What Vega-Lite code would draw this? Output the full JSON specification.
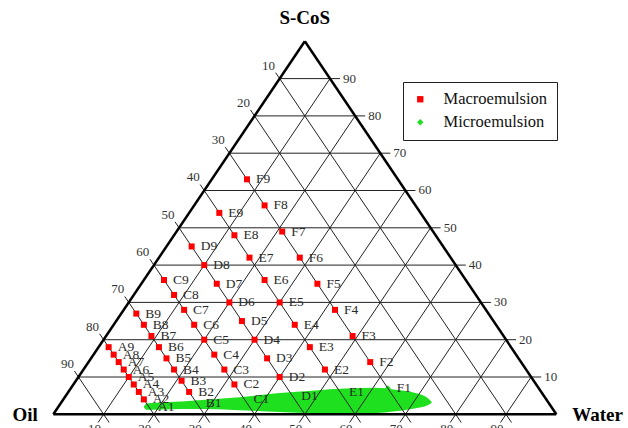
{
  "$schema": "https://vega.github.io/schema/vega-lite/v6.json",
  "width": 628,
  "height": 428,
  "autosize": "none",
  "padding": 0,
  "background": "white",
  "config": {"view": {"stroke": null}},
  "datasets": {
    "blob": [
      {"bx": 18.0, "btop": 2.1, "bbot": 1.9},
      {"bx": 18.6, "btop": 2.9, "bbot": 1.2},
      {"bx": 22, "btop": 3.2, "bbot": 1.3},
      {"bx": 29, "btop": 3.8, "bbot": 1.4},
      {"bx": 37, "btop": 4.6, "bbot": 1.1},
      {"bx": 45, "btop": 5.7, "bbot": 0.6},
      {"bx": 52, "btop": 6.4, "bbot": 0.3},
      {"bx": 58, "btop": 6.9, "bbot": 0.2},
      {"bx": 64, "btop": 7.1, "bbot": 0.3},
      {"bx": 68, "btop": 6.6, "bbot": 0.8},
      {"bx": 72, "btop": 5.7, "bbot": 1.6},
      {"bx": 74.4, "btop": 4.4, "bbot": 2.4},
      {"bx": 75.2, "btop": 3.4, "bbot": 3.1}
    ],
    "grid": [
      {"x1": 5, "y1": 10, "x2": 97, "y2": 10},
      {"x1": 10, "y1": 20, "x2": 92, "y2": 20},
      {"x1": 15, "y1": 30, "x2": 87, "y2": 30},
      {"x1": 20, "y1": 40, "x2": 82, "y2": 40},
      {"x1": 25, "y1": 50, "x2": 77, "y2": 50},
      {"x1": 30, "y1": 60, "x2": 72, "y2": 60},
      {"x1": 35, "y1": 70, "x2": 67, "y2": 70},
      {"x1": 40, "y1": 80, "x2": 62, "y2": 80},
      {"x1": 45, "y1": 90, "x2": 57, "y2": 90},
      {"x1": 8.9, "y1": -2.2, "x2": 55, "y2": 90},
      {"x1": 18.9, "y1": -2.2, "x2": 60, "y2": 80},
      {"x1": 28.9, "y1": -2.2, "x2": 65, "y2": 70},
      {"x1": 38.9, "y1": -2.2, "x2": 70, "y2": 60},
      {"x1": 48.9, "y1": -2.2, "x2": 75, "y2": 50},
      {"x1": 58.9, "y1": -2.2, "x2": 80, "y2": 40},
      {"x1": 68.9, "y1": -2.2, "x2": 85, "y2": 30},
      {"x1": 78.9, "y1": -2.2, "x2": 90, "y2": 20},
      {"x1": 88.9, "y1": -2.2, "x2": 95, "y2": 10},
      {"x1": 4.2, "y1": 11.6, "x2": 11.1, "y2": -2.2},
      {"x1": 9.2, "y1": 21.6, "x2": 21.1, "y2": -2.2},
      {"x1": 14.2, "y1": 31.6, "x2": 31.1, "y2": -2.2},
      {"x1": 19.2, "y1": 41.6, "x2": 41.1, "y2": -2.2},
      {"x1": 24.2, "y1": 51.6, "x2": 51.1, "y2": -2.2},
      {"x1": 29.2, "y1": 61.6, "x2": 61.1, "y2": -2.2},
      {"x1": 34.2, "y1": 71.6, "x2": 71.1, "y2": -2.2},
      {"x1": 39.2, "y1": 81.6, "x2": 81.1, "y2": -2.2},
      {"x1": 44.2, "y1": 91.6, "x2": 91.1, "y2": -2.2}
    ],
    "edges": [
      {"x1": 0, "y1": 0, "x2": 100, "y2": 0},
      {"x1": 0, "y1": 0, "x2": 50, "y2": 100},
      {"x1": 100, "y1": 0, "x2": 50, "y2": 100}
    ],
    "points": [
      {"name": "A1", "oil": 80, "water": 18, "scos": 2, "x": 19, "type": "Microemulsion"},
      {"name": "A2", "oil": 80, "water": 16, "scos": 4, "x": 18, "type": "Macroemulsion"},
      {"name": "A3", "oil": 80, "water": 14, "scos": 6, "x": 17, "type": "Macroemulsion"},
      {"name": "A4", "oil": 80, "water": 12, "scos": 8, "x": 16, "type": "Macroemulsion"},
      {"name": "A5", "oil": 80, "water": 10, "scos": 10, "x": 15, "type": "Macroemulsion"},
      {"name": "A6", "oil": 80, "water": 8, "scos": 12, "x": 14, "type": "Macroemulsion"},
      {"name": "A7", "oil": 80, "water": 6, "scos": 14, "x": 13, "type": "Macroemulsion"},
      {"name": "A8", "oil": 80, "water": 4, "scos": 16, "x": 12, "type": "Macroemulsion"},
      {"name": "A9", "oil": 80, "water": 2, "scos": 18, "x": 11, "type": "Macroemulsion"},
      {"name": "B1", "oil": 70, "water": 27, "scos": 3, "x": 28.5, "type": "Microemulsion"},
      {"name": "B2", "oil": 70, "water": 24, "scos": 6, "x": 27, "type": "Macroemulsion"},
      {"name": "B3", "oil": 70, "water": 21, "scos": 9, "x": 25.5, "type": "Macroemulsion"},
      {"name": "B4", "oil": 70, "water": 18, "scos": 12, "x": 24, "type": "Macroemulsion"},
      {"name": "B5", "oil": 70, "water": 15, "scos": 15, "x": 22.5, "type": "Macroemulsion"},
      {"name": "B6", "oil": 70, "water": 12, "scos": 18, "x": 21, "type": "Macroemulsion"},
      {"name": "B7", "oil": 70, "water": 9, "scos": 21, "x": 19.5, "type": "Macroemulsion"},
      {"name": "B8", "oil": 70, "water": 6, "scos": 24, "x": 18, "type": "Macroemulsion"},
      {"name": "B9", "oil": 70, "water": 3, "scos": 27, "x": 16.5, "type": "Macroemulsion"},
      {"name": "C1", "oil": 60, "water": 36, "scos": 4, "x": 38, "type": "Microemulsion"},
      {"name": "C2", "oil": 60, "water": 32, "scos": 8, "x": 36, "type": "Macroemulsion"},
      {"name": "C3", "oil": 60, "water": 28, "scos": 12, "x": 34, "type": "Macroemulsion"},
      {"name": "C4", "oil": 60, "water": 24, "scos": 16, "x": 32, "type": "Macroemulsion"},
      {"name": "C5", "oil": 60, "water": 20, "scos": 20, "x": 30, "type": "Macroemulsion"},
      {"name": "C6", "oil": 60, "water": 16, "scos": 24, "x": 28, "type": "Macroemulsion"},
      {"name": "C7", "oil": 60, "water": 12, "scos": 28, "x": 26, "type": "Macroemulsion"},
      {"name": "C8", "oil": 60, "water": 8, "scos": 32, "x": 24, "type": "Macroemulsion"},
      {"name": "C9", "oil": 60, "water": 4, "scos": 36, "x": 22, "type": "Macroemulsion"},
      {"name": "D1", "oil": 50, "water": 45, "scos": 5, "x": 47.5, "type": "Microemulsion"},
      {"name": "D2", "oil": 50, "water": 40, "scos": 10, "x": 45, "type": "Macroemulsion"},
      {"name": "D3", "oil": 50, "water": 35, "scos": 15, "x": 42.5, "type": "Macroemulsion"},
      {"name": "D4", "oil": 50, "water": 30, "scos": 20, "x": 40, "type": "Macroemulsion"},
      {"name": "D5", "oil": 50, "water": 25, "scos": 25, "x": 37.5, "type": "Macroemulsion"},
      {"name": "D6", "oil": 50, "water": 20, "scos": 30, "x": 35, "type": "Macroemulsion"},
      {"name": "D7", "oil": 50, "water": 15, "scos": 35, "x": 32.5, "type": "Macroemulsion"},
      {"name": "D8", "oil": 50, "water": 10, "scos": 40, "x": 30, "type": "Macroemulsion"},
      {"name": "D9", "oil": 50, "water": 5, "scos": 45, "x": 27.5, "type": "Macroemulsion"},
      {"name": "E1", "oil": 40, "water": 54, "scos": 6, "x": 57, "type": "Microemulsion"},
      {"name": "E2", "oil": 40, "water": 48, "scos": 12, "x": 54, "type": "Macroemulsion"},
      {"name": "E3", "oil": 40, "water": 42, "scos": 18, "x": 51, "type": "Macroemulsion"},
      {"name": "E4", "oil": 40, "water": 36, "scos": 24, "x": 48, "type": "Macroemulsion"},
      {"name": "E5", "oil": 40, "water": 30, "scos": 30, "x": 45, "type": "Macroemulsion"},
      {"name": "E6", "oil": 40, "water": 24, "scos": 36, "x": 42, "type": "Macroemulsion"},
      {"name": "E7", "oil": 40, "water": 18, "scos": 42, "x": 39, "type": "Macroemulsion"},
      {"name": "E8", "oil": 40, "water": 12, "scos": 48, "x": 36, "type": "Macroemulsion"},
      {"name": "E9", "oil": 40, "water": 6, "scos": 54, "x": 33, "type": "Macroemulsion"},
      {"name": "F1", "oil": 30, "water": 63, "scos": 7, "x": 66.5, "type": "Microemulsion"},
      {"name": "F2", "oil": 30, "water": 56, "scos": 14, "x": 63, "type": "Macroemulsion"},
      {"name": "F3", "oil": 30, "water": 49, "scos": 21, "x": 59.5, "type": "Macroemulsion"},
      {"name": "F4", "oil": 30, "water": 42, "scos": 28, "x": 56, "type": "Macroemulsion"},
      {"name": "F5", "oil": 30, "water": 35, "scos": 35, "x": 52.5, "type": "Macroemulsion"},
      {"name": "F6", "oil": 30, "water": 28, "scos": 42, "x": 49, "type": "Macroemulsion"},
      {"name": "F7", "oil": 30, "water": 21, "scos": 49, "x": 45.5, "type": "Macroemulsion"},
      {"name": "F8", "oil": 30, "water": 14, "scos": 56, "x": 42, "type": "Macroemulsion"},
      {"name": "F9", "oil": 30, "water": 7, "scos": 63, "x": 38.5, "type": "Macroemulsion"}
    ],
    "ticklabels": [
      {"side": "left", "label": "10", "tx": 42.8, "ty": 93.5},
      {"side": "left", "label": "20", "tx": 37.8, "ty": 83.5},
      {"side": "left", "label": "30", "tx": 32.8, "ty": 73.5},
      {"side": "left", "label": "40", "tx": 27.8, "ty": 63.5},
      {"side": "left", "label": "50", "tx": 22.8, "ty": 53.5},
      {"side": "left", "label": "60", "tx": 17.8, "ty": 43.5},
      {"side": "left", "label": "70", "tx": 12.8, "ty": 33.5},
      {"side": "left", "label": "80", "tx": 7.8, "ty": 23.5},
      {"side": "left", "label": "90", "tx": 2.8, "ty": 13.5},
      {"side": "right", "label": "90", "tx": 57.6, "ty": 90},
      {"side": "right", "label": "80", "tx": 62.6, "ty": 80},
      {"side": "right", "label": "70", "tx": 67.6, "ty": 70},
      {"side": "right", "label": "60", "tx": 72.6, "ty": 60},
      {"side": "right", "label": "50", "tx": 77.6, "ty": 50},
      {"side": "right", "label": "40", "tx": 82.6, "ty": 40},
      {"side": "right", "label": "30", "tx": 87.6, "ty": 30},
      {"side": "right", "label": "20", "tx": 92.6, "ty": 20},
      {"side": "right", "label": "10", "tx": 97.6, "ty": 10},
      {"side": "bottom", "label": "10", "tx": 8.2, "ty": -2.4},
      {"side": "bottom", "label": "20", "tx": 18.2, "ty": -2.4},
      {"side": "bottom", "label": "30", "tx": 28.2, "ty": -2.4},
      {"side": "bottom", "label": "40", "tx": 38.2, "ty": -2.4},
      {"side": "bottom", "label": "50", "tx": 48.2, "ty": -2.4},
      {"side": "bottom", "label": "60", "tx": 58.2, "ty": -2.4},
      {"side": "bottom", "label": "70", "tx": 68.2, "ty": -2.4},
      {"side": "bottom", "label": "80", "tx": 78.2, "ty": -2.4},
      {"side": "bottom", "label": "90", "tx": 88.2, "ty": -2.4}
    ],
    "titles": [
      {"name": "S-CoS", "tx": 50, "ty": 106.2},
      {"name": "Oil", "tx": -5.6, "ty": -0.3},
      {"name": "Water", "tx": 108.2, "ty": -0.3}
    ]
  },
  "layer": [
    {
      "data": {"name": "points"},
      "transform": [{"filter": "datum.type === 'Microemulsion'"}],
      "mark": {"type": "point", "filled": true, "opacity": 1, "size": 36},
      "encoding": {
        "x": {"field": "x", "type": "quantitative", "scale": {"domain": [-10.6, 114.25], "nice": false, "zero": false}, "axis": null},
        "y": {"field": "scos", "type": "quantitative", "scale": {"domain": [-3.67, 111.07], "nice": false, "zero": false}, "axis": null},
        "color": {"field": "type", "type": "nominal", "scale": {"domain": ["Macroemulsion", "Microemulsion"], "range": ["#ff0000", "#1fe01f"]},
          "legend": {"title": null, "orient": "none", "legendX": 403, "legendY": 82, "padding": 9, "rowPadding": 6, "strokeColor": "#222222", "fillColor": "white", "labelFont": "Liberation Serif", "labelFontSize": 16.5, "labelColor": "#111111", "labelOffset": 15, "symbolSize": 40, "symbolStrokeWidth": 0}},
        "shape": {"field": "type", "type": "nominal", "scale": {"domain": ["Macroemulsion", "Microemulsion"], "range": ["square", "diamond"]}}
      }
    },
    {
      "data": {"name": "blob"},
      "mark": {"type": "area", "orient": "vertical", "interpolate": "monotone", "color": "#1fe01f", "opacity": 1},
      "encoding": {
        "x": {"field": "bx", "type": "quantitative", "scale": {"domain": [-10.6, 114.25], "nice": false, "zero": false}, "axis": null},
        "y": {"field": "btop", "type": "quantitative", "scale": {"domain": [-3.67, 111.07], "nice": false, "zero": false}, "axis": null},
        "y2": {"field": "bbot"}
      }
    },
    {
      "data": {"name": "grid"},
      "mark": {"type": "rule", "color": "#222222", "strokeWidth": 1},
      "encoding": {
        "x": {"field": "x1", "type": "quantitative", "scale": {"domain": [-10.6, 114.25], "nice": false, "zero": false}, "axis": null},
        "y": {"field": "y1", "type": "quantitative", "scale": {"domain": [-3.67, 111.07], "nice": false, "zero": false}, "axis": null},
        "x2": {"field": "x2"},
        "y2": {"field": "y2"}
      }
    },
    {
      "data": {"name": "edges"},
      "mark": {"type": "rule", "color": "#000000", "strokeWidth": 2.5},
      "encoding": {
        "x": {"field": "x1", "type": "quantitative", "scale": {"domain": [-10.6, 114.25], "nice": false, "zero": false}, "axis": null},
        "y": {"field": "y1", "type": "quantitative", "scale": {"domain": [-3.67, 111.07], "nice": false, "zero": false}, "axis": null},
        "x2": {"field": "x2"},
        "y2": {"field": "y2"}
      }
    },
    {
      "data": {"name": "points"},
      "transform": [{"filter": "datum.type === 'Macroemulsion'"}],
      "mark": {"type": "point", "filled": true, "opacity": 1, "size": 36},
      "encoding": {
        "x": {"field": "x", "type": "quantitative", "scale": {"domain": [-10.6, 114.25], "nice": false, "zero": false}, "axis": null},
        "y": {"field": "scos", "type": "quantitative", "scale": {"domain": [-3.67, 111.07], "nice": false, "zero": false}, "axis": null},
        "color": {"field": "type", "type": "nominal", "scale": {"domain": ["Macroemulsion", "Microemulsion"], "range": ["#ff0000", "#1fe01f"]}},
        "shape": {"field": "type", "type": "nominal", "scale": {"domain": ["Macroemulsion", "Microemulsion"], "range": ["square", "diamond"]}}
      }
    },
    {
      "data": {"name": "points"},
      "mark": {"type": "text", "align": "left", "baseline": "middle", "dx": 9, "font": "Liberation Serif", "fontSize": 13.5, "color": "#2a2a2a"},
      "encoding": {
        "x": {"field": "x", "type": "quantitative", "scale": {"domain": [-10.6, 114.25], "nice": false, "zero": false}, "axis": null},
        "y": {"field": "scos", "type": "quantitative", "scale": {"domain": [-3.67, 111.07], "nice": false, "zero": false}, "axis": null},
        "text": {"field": "name"}
      }
    },
    {
      "data": {"name": "ticklabels"},
      "transform": [{"filter": "datum.side === 'left'"}],
      "mark": {"type": "text", "align": "center", "baseline": "middle", "font": "Liberation Serif", "fontSize": 13, "color": "#333333"},
      "encoding": {
        "x": {"field": "tx", "type": "quantitative", "scale": {"domain": [-10.6, 114.25], "nice": false, "zero": false}, "axis": null},
        "y": {"field": "ty", "type": "quantitative", "scale": {"domain": [-3.67, 111.07], "nice": false, "zero": false}, "axis": null},
        "text": {"field": "label"}
      }
    },
    {
      "data": {"name": "ticklabels"},
      "transform": [{"filter": "datum.side === 'right'"}],
      "mark": {"type": "text", "align": "left", "baseline": "middle", "font": "Liberation Serif", "fontSize": 13, "color": "#333333"},
      "encoding": {
        "x": {"field": "tx", "type": "quantitative", "scale": {"domain": [-10.6, 114.25], "nice": false, "zero": false}, "axis": null},
        "y": {"field": "ty", "type": "quantitative", "scale": {"domain": [-3.67, 111.07], "nice": false, "zero": false}, "axis": null},
        "text": {"field": "label"}
      }
    },
    {
      "data": {"name": "ticklabels"},
      "transform": [{"filter": "datum.side === 'bottom'"}],
      "mark": {"type": "text", "align": "center", "baseline": "top", "font": "Liberation Serif", "fontSize": 13, "color": "#333333"},
      "encoding": {
        "x": {"field": "tx", "type": "quantitative", "scale": {"domain": [-10.6, 114.25], "nice": false, "zero": false}, "axis": null},
        "y": {"field": "ty", "type": "quantitative", "scale": {"domain": [-3.67, 111.07], "nice": false, "zero": false}, "axis": null},
        "text": {"field": "label"}
      }
    },
    {
      "data": {"name": "titles"},
      "mark": {"type": "text", "align": "center", "baseline": "middle", "font": "Liberation Serif", "fontSize": 19, "fontWeight": "bold", "color": "#000000"},
      "encoding": {
        "x": {"field": "tx", "type": "quantitative", "scale": {"domain": [-10.6, 114.25], "nice": false, "zero": false}, "axis": null},
        "y": {"field": "ty", "type": "quantitative", "scale": {"domain": [-3.67, 111.07], "nice": false, "zero": false}, "axis": null},
        "text": {"field": "name"}
      }
    }
  ]
}
